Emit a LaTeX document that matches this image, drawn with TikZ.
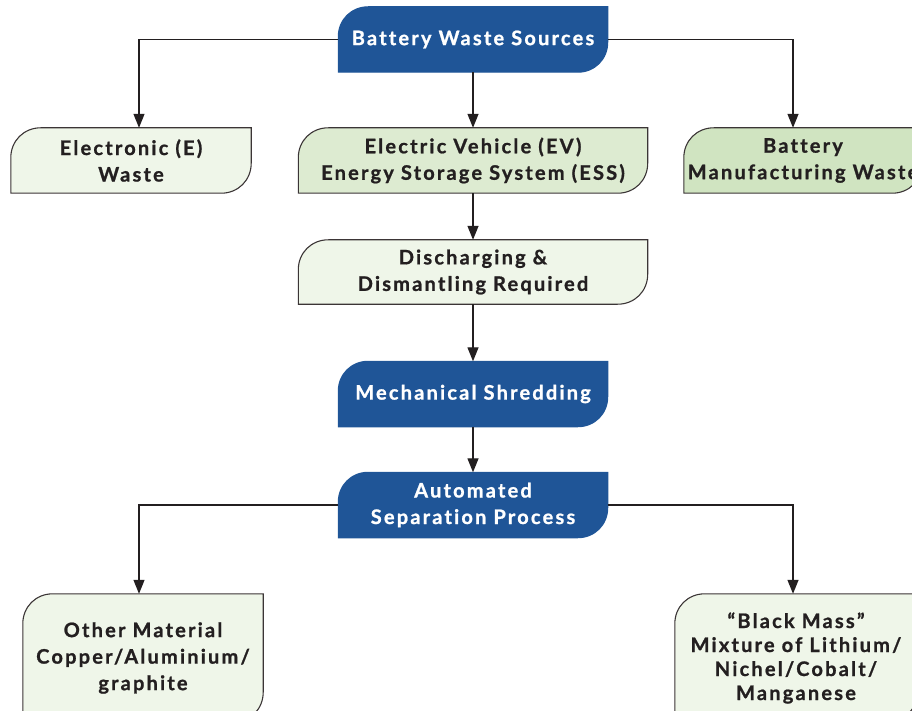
\documentclass[tikz,border=0pt]{standalone}
\usepackage{fontspec}
\setmainfont{Lato}[LetterSpace=11,Ligatures=NoCommon,BoldFeatures={FakeBold=1}]
\usetikzlibrary{arrows.meta, positioning}
\pgfdeclarelayer{background}
\pgfsetlayers{background,main}
\definecolor{wsblue}{HTML}{1F5597}
\definecolor{inkdark}{HTML}{231F20}
\definecolor{boxline}{HTML}{3B3536}
\definecolor{leafpale}{HTML}{EFF6E9}
\definecolor{leafmid}{HTML}{DDEBD1}
\definecolor{leafdeep}{HTML}{D0E4C1}
\tikzset{
  >={Triangle[width=11pt,length=14pt]},
  stage/.style={
    text=white,font=\bfseries\fontsize{20}{26.5}\selectfont,align=center,
    minimum width=269pt,minimum height=65pt,inner sep=0pt
  },
  source/.style={
    text=inkdark,font=\bfseries\fontsize{20}{26.5}\selectfont,align=center,
    minimum width=240pt,minimum height=65pt,inner sep=0pt
  },
  link/.style={draw=inkdark,line width=1.3pt,->},
  tile/.style={line width=1.1pt} %box outline
}

\begin{document}
\begin{tikzpicture}[x=1pt,y=-1pt]
  \useasboundingbox (0,0) rectangle (912,711);

  % Sources
  \node[stage] (src) at (473,39.5) {Battery Waste Sources};
  \node[source] (ew) at (131,160.5) {Electronic (E)\\Waste};
  \node[source,minimum width=349pt] (ev) at (473,160.5) {Electric Vehicle (EV)\\Energy Storage System (ESS)};
  \node[source,minimum width=238pt] (bmw) at (803,160.5) {Battery\\Manufacturing Waste};

  % Process
  \node[source,minimum width=349pt,minimum height=64pt] (dis) at (473,272) {Discharging \&\\Dismantling Required};
  \node[stage] (mech) at (473,394) {Mechanical Shredding};
  \node[stage] (sep) at (473,505) {Automated\\Separation Process};

  % Outputs
  \node[source,minimum height=128pt] (oth) at (143,658) {Other Material\\Copper/Aluminium/\\graphite};
  \node[source,minimum width=242pt,minimum height=128pt,
    font=\bfseries\fontsize{20}{24}\selectfont] (bm) at (796,658)
    {“Black Mass”\\Mixture of Lithium/\\Nichel/Cobalt/\\Manganese};

  \begin{pgfonlayer}{background}
    \foreach \n/\c/\e in {src/wsblue/wsblue, mech/wsblue/wsblue, sep/wsblue/wsblue,
      ew/leafpale/boxline, ev/leafmid/boxline, bmw/leafdeep/boxline,
      dis/leafpale/boxline, oth/leafpale/boxline, bm/leafpale/boxline}
      \draw[tile,fill=\c,draw=\e] (\n.north east) -- ([yshift=30pt]\n.south east)
        .. controls ([yshift=13pt]\n.south east) and ([xshift=-13pt]\n.south east) .. ([xshift=-30pt]\n.south east)
        -- (\n.south west) -- ([yshift=-30pt]\n.north west)
        .. controls ([yshift=-13pt]\n.north west) and ([xshift=13pt]\n.north west) .. ([xshift=30pt]\n.north west)
        -- cycle;
  \end{pgfonlayer}

  % Connectors
  \draw[link] (src.west) -| ([xshift=8pt]ew.north);
  \draw[link] (src.east) -| ([xshift=-10pt]bmw.north);
  \draw[link] (src) -- (ev);
  \draw[link] (ev) -- (dis);
  \draw[link] (dis) -- (mech);
  \draw[link] (mech) -- (sep);
  \draw[link] (sep.west) -| ([xshift=-4pt]oth.north);
  \draw[link] (sep.east) -| ([xshift=-3pt]bm.north);
\end{tikzpicture}
\end{document}
